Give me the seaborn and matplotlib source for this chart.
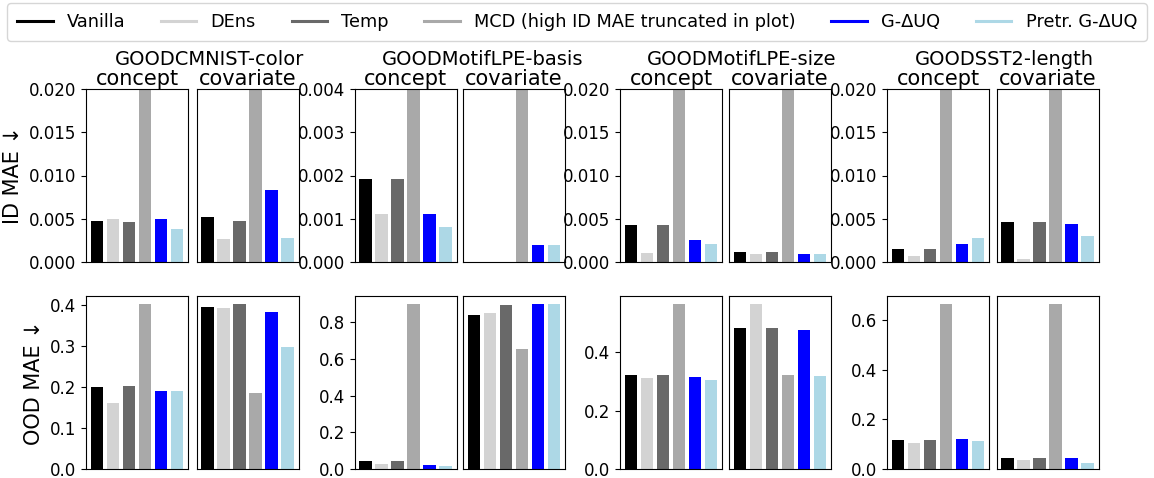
import matplotlib
matplotlib.use('Agg')
import matplotlib.pyplot as plt
from matplotlib.lines import Line2D
import pandas as pd
import seaborn as sns

methods = ['Vanilla', 'DEns', 'Temp', 'MCD (high ID MAE truncated in plot)', 'G-ΔUQ', 'Pretr. G-ΔUQ']
colors = ['black', 'lightgray', 'dimgray', 'darkgray', 'blue', 'lightblue']
datasets = ['GOODCMNIST-color', 'GOODMotifLPE-basis', 'GOODMotifLPE-size', 'GOODSST2-length']
shifts = ['concept', 'covariate']

# ID MAE, [concept, covariate]; MCD is far above the plotted range
cmnist_id = [[0.00473, 0.00492, 0.00457, 0.05, 0.00492, 0.0038],
             [0.00519, 0.00264, 0.00473, 0.05, 0.00829, 0.00275]]
basis_id = [[0.00191, 0.0011, 0.00191, 0.05, 0.0011, 0.0008],
            [0.00001, 0.00001, 0.00001, 0.05, 0.0004, 0.0004]]
size_id = [[0.00422, 0.00109, 0.00422, 0.05, 0.0026, 0.00213],
           [0.0012, 0.00097, 0.0012, 0.05, 0.00097, 0.00097]]
sst2_id = [[0.00155, 0.00074, 0.00155, 0.05, 0.00213, 0.00283],
           [0.00457, 0.00039, 0.00457, 0.05, 0.00434, 0.00295]]

# OOD MAE, [concept, covariate]
cmnist_ood = [[0.200, 0.161, 0.203, 0.401, 0.191, 0.191],
              [0.394, 0.391, 0.401, 0.186, 0.381, 0.298]]
basis_ood = [[0.044, 0.027, 0.044, 0.897, 0.022, 0.018],
             [0.836, 0.847, 0.891, 0.651, 0.897, 0.897]]
size_ood = [[0.323, 0.313, 0.323, 0.564, 0.316, 0.306],
            [0.481, 0.564, 0.481, 0.323, 0.475, 0.320]]
sst2_ood = [[0.117, 0.105, 0.117, 0.664, 0.121, 0.113],
            [0.045, 0.036, 0.045, 0.664, 0.045, 0.024]]

id_ylims = [0.02, 0.004, 0.02, 0.02]

rows = []
for metric, tables in [('ID', [cmnist_id, basis_id, size_id, sst2_id]),
                       ('OOD', [cmnist_ood, basis_ood, size_ood, sst2_ood])]:
    for ds, table in zip(datasets, tables):
        for sh, vals in zip(shifts, table):
            for m, v in zip(methods, vals):
                rows.append({'metric': metric, 'dataset': ds, 'shift': sh, 'method': m, 'mae': v})
df = pd.DataFrame(rows)

# layout in pixels
W, H = 1154, 478
lefts = [86, 196.5, 354.5, 463, 620, 729, 887, 996.5]
axw, axh = 102, 173
row_tops = [89, 296]
title_x = [209.5, 482.5, 742, 1004]

fig = plt.figure(figsize=(W / 100, H / 100), dpi=100)

for r, metric in enumerate(['ID', 'OOD']):
    for d, ds in enumerate(datasets):
        first = None
        for s, sh in enumerate(shifts):
            i = 2 * d + s
            ax = fig.add_axes([lefts[i] / W, (H - row_tops[r] - axh) / H, axw / W, axh / H],
                              sharey=first)
            sub = df[(df.metric == metric) & (df.dataset == ds) & (df['shift'] == sh)]
            sns.barplot(data=sub, x='method', y='mae', hue='method', order=methods,
                        hue_order=methods, palette=colors, saturation=1, width=0.8,
                        errorbar=None, legend=False, ax=ax)
            ax.set_xlim(-0.69, 5.69)
            ax.set_xticks([])
            ax.set_xlabel('')
            ax.set_ylabel('')
            ax.tick_params(axis='y', labelsize=12)
            if r == 0:
                ax.set_title(sh, fontsize=15, pad=3)
            if s == 0:
                first = ax
            else:
                ax.tick_params(left=False, labelleft=False)
        if r == 0:
            first.set_ylim(0, id_ylims[d])
        else:
            top = df[(df.metric == metric) & (df.dataset == ds)]['mae'].max()
            first.set_ylim(0, top * 1.05)
        if d == 0:
            first.set_ylabel('ID MAE ↓' if r == 0 else 'OOD MAE ↓', fontsize=15)
    if r == 0:
        for d, ds in enumerate(datasets):
            fig.text(title_x[d] / W, 1 - 65 / H, ds, ha='center', va='baseline', fontsize=14)

handles = [Line2D([0], [0], color=c, lw=2.2) for c in colors]
fig.legend(handles, methods, loc='upper center', bbox_to_anchor=(0.5, 1 - 3 / H),
           ncol=6, fontsize=12.8, frameon=True, borderaxespad=0, borderpad=0.55)

fig.savefig('out.png', dpi=100)
